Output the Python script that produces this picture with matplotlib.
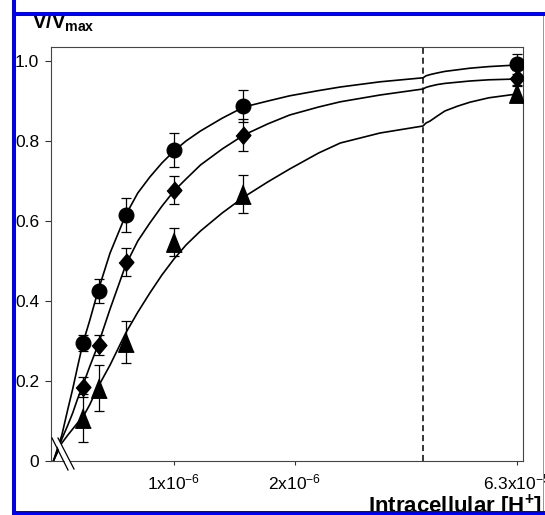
import matplotlib
matplotlib.use("Agg")
import matplotlib.pyplot as plt
import numpy as np
from matplotlib.patches import Rectangle, Polygon
from matplotlib.lines import Line2D

plt.rcParams['font.family'] = ['Liberation Sans', 'DejaVu Sans']
plt.rcParams['mathtext.fontset'] = 'custom'
plt.rcParams['mathtext.rm'] = 'Liberation Sans'
plt.rcParams['mathtext.it'] = 'Liberation Sans:italic'
plt.rcParams['mathtext.bf'] = 'Liberation Sans:bold'

# measured points, intracellular [H+] in M
conc = [0.245e-6, 0.375e-6, 0.605e-6, 1.0e-6, 1.575e-6, 63e-6]
v_circle = [0.295, 0.425, 0.615, 0.777, 0.888, 0.993]
e_circle = [0.02, 0.03, 0.042, 0.043, 0.04, 0.025]
v_diamond = [0.185, 0.29, 0.497, 0.678, 0.815, 0.957]
e_diamond = [0.025, 0.025, 0.035, 0.035, 0.04, 0.02]
v_triangle = [0.108, 0.183, 0.298, 0.548, 0.667, 0.92]
e_triangle = [0.06, 0.057, 0.053, 0.035, 0.047, 0.02]

# fitted curves (x in units of 1e-6 M)
curve_x = [0, 0.07, 0.12, 0.16, 0.2, 0.245, 0.3, 0.37, 0.47, 0.6, 0.7, 0.8, 0.9, 1.0,
           1.1, 1.22, 1.4, 1.58, 1.78, 1.96, 2.2, 2.38, 2.71, 3.066,
           5, 7.6, 12, 17, 25, 33, 45, 63]
curve_circle = [0, 0.065, 0.13, 0.18, 0.235, 0.295, 0.35, 0.425, 0.52, 0.615, 0.67, 0.71,
                0.745, 0.775, 0.80, 0.825, 0.857, 0.885, 0.90, 0.913, 0.926, 0.935, 0.948,
                0.958, 0.963, 0.966, 0.970, 0.974, 0.978, 0.982, 0.986, 0.99]
curve_diamond = [0, 0.055, 0.09, 0.12, 0.155, 0.19, 0.235, 0.29, 0.38, 0.49, 0.55, 0.595,
                 0.637, 0.675, 0.705, 0.74, 0.78, 0.815, 0.843, 0.865, 0.885, 0.898, 0.915,
                 0.93, 0.934, 0.937, 0.941, 0.944, 0.947, 0.95, 0.953, 0.955]
curve_triangle = [0, 0.045, 0.065, 0.08, 0.095, 0.11, 0.14, 0.185, 0.24, 0.32, 0.372, 0.42,
                  0.465, 0.505, 0.54, 0.575, 0.62, 0.66, 0.698, 0.73, 0.77, 0.795, 0.82,
                  0.8375, 0.845, 0.85, 0.862, 0.875, 0.887, 0.897, 0.908, 0.9175]

x_ticks = [1e-6, 2e-6, 6.3e-5]
x_ticklabels = ['1x10$^{-6}$', '2x10$^{-6}$', '6.3x10$^{-5}$']
y_ticks = [0, 0.2, 0.4, 0.6, 0.8, 1.0]
y_ticklabels = ['0', '0.2', '0.4', '0.6', '0.8', '1.0']

# axis break: linear up to x_break, compressed after it
x_break = 3.066e-6
k = 0.013015


def fwd(x):
    x = np.asarray(x, dtype=float)
    return np.where(x <= x_break, x, x_break + (x - x_break) * k)


def inv(s):
    s = np.asarray(s, dtype=float)
    return np.where(s <= x_break, s, x_break + (s - x_break) / k)


W, H = 545, 515
fig = plt.figure(figsize=(W / 100, H / 100), dpi=100)
ax = fig.add_axes([51 / W, 1 - 461 / H, 472 / W, 414 / H])


def fx(px):
    return px / W


def fy(py):
    return 1 - py / H


ax.set_xscale('function', functions=(fwd, inv))
ax.set_xlim(-0.02e-6, 66.8e-6)
ax.set_ylim(0, 1.035)

cx = np.array(curve_x) * 1e-6
for cy in (curve_circle, curve_diamond, curve_triangle):
    ax.plot(cx, cy, color='k', lw=1.2, zorder=2, solid_joinstyle='round')

tri_verts = [(0, 1), (-0.8, -1), (0.8, -1)]
dia_verts = [(0, 1), (0.85, 0), (0, -1), (-0.85, 0)]
for v, e, mk, ms in [(v_circle, e_circle, 'o', 10.5),
                     (v_diamond, e_diamond, dia_verts, 12.5),
                     (v_triangle, e_triangle, tri_verts, 14)]:
    ax.errorbar(conc, v, yerr=e, fmt='none', ecolor='k', elinewidth=0.9,
                capsize=3.5, capthick=0.9, zorder=3)
    ax.plot(conc, v, linestyle='none', marker=mk, markersize=ms,
            color='k', zorder=4)

ax.axvline(x_break, color='k', lw=1.1, ls=(0, (4, 2.5)), zorder=1)

ax.set_xticks(x_ticks)
ax.set_xticklabels(x_ticklabels)
ax.set_yticks(y_ticks)
ax.set_yticklabels(y_ticklabels)
ax.minorticks_off()
ax.tick_params(axis='both', labelsize=12.5, direction='out', color='#333333', width=0.8)
ax.tick_params(axis='y', length=4.5, pad=4)
ax.tick_params(axis='x', length=3, pad=5)
for sp in ax.spines.values():
    sp.set_color('#444444')
    sp.set_linewidth(0.8)

# break symbol on the x axis
fig.add_artist(Polygon([(fx(53), fy(438)), (fx(58), fy(438)), (fx(74), fy(469)), (fx(69), fy(470))],
                       closed=True, transform=fig.transFigure, facecolor='white',
                       edgecolor='none', zorder=1))
fig.add_artist(Line2D([fx(52), fx(68)], [fy(438), fy(470)], transform=fig.transFigure,
                      color='k', lw=0.9, zorder=2))
fig.add_artist(Line2D([fx(58), fx(74)], [fy(438), fy(469)], transform=fig.transFigure,
                      color='k', lw=0.9, zorder=2))

fig.text(fx(32), fy(29), r'$\mathbf{V/V_{max}}$', fontsize=14.5, va='baseline', zorder=5)
fig.text(fx(368), fy(513), r'Intracellular [H$^{\mathbf{+}}$]', fontsize=16,
         fontweight='bold', va='baseline', zorder=5)

# white outside and blue frame
for x0, y0, w, h, c in [(0, 0, 12, H, 'white'), (0, 0, W, 12, 'white'),
                        (12, 0, 4, H, '#0000f0'), (12, 12, W - 12, 4, '#0000f0'),
                        (12, 511, W - 12, 4, '#0000f0'), (542.5, 16, 1.5, 495, '#8c8cff')]:
    fig.add_artist(Rectangle((fx(x0), fy(y0 + h)), w / W, h / H, transform=fig.transFigure,
                             facecolor=c, edgecolor='none', zorder=10))

fig.savefig('out.png', dpi=100)
